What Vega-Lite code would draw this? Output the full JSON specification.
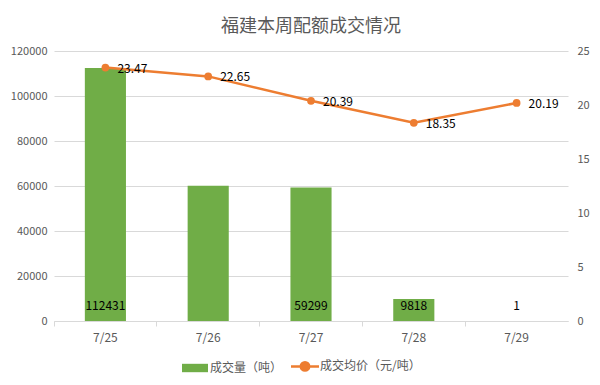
{
  "$schema": "https://vega.github.io/schema/vega-lite/v6.json",
  "width": 514,
  "height": 270,
  "autosize": {"type": "none"},
  "padding": {"left": 54, "top": 51, "right": 32, "bottom": 64},
  "background": "white",
  "config": {
    "font": "Noto Sans CJK SC",
    "view": {"stroke": null},
    "axis": {"labelColor": "#595959", "labelFontSize": 11, "gridColor": "#D9D9D9", "domainColor": "#D9D9D9", "tickColor": "#D9D9D9", "title": null}
  },
  "title": {"text": "福建本周配额成交情况", "fontSize": 18, "fontWeight": "normal", "color": "#595959", "anchor": "middle", "offset": 9},
  "data": {
    "values": [
      {"date": "7/25", "volume": 112431, "price": 23.47, "label": "112431"},
      {"date": "7/26", "volume": 60100, "price": 22.65, "label": ""},
      {"date": "7/27", "volume": 59299, "price": 20.39, "label": "59299"},
      {"date": "7/28", "volume": 9818, "price": 18.35, "label": "9818"},
      {"date": "7/29", "volume": 1, "price": 20.19, "label": "1"}
    ]
  },
  "encoding": {
    "x": {
      "field": "date", "type": "nominal", "sort": null,
      "scale": {"paddingInner": 0, "paddingOuter": 0},
      "axis": {"labelAngle": 0, "bandPosition": 0, "tickSize": 5, "labelPadding": 6, "labelFontSize": 12, "domainColor": "#D9D9D9", "grid": false}
    }
  },
  "layer": [
    {
      "encoding": {
        "y": {
          "field": "volume", "type": "quantitative",
          "scale": {"domain": [0, 120000], "nice": false},
          "axis": {"values": [0, 20000, 40000, 60000, 80000, 100000, 120000], "format": "d", "domain": false, "ticks": false, "labelPadding": 7, "grid": true}
        }
      },
      "layer": [
        {
          "mark": {"type": "bar", "width": {"band": 0.4}},
          "encoding": {
            "color": {
              "datum": "成交量（吨）",
              "type": "nominal",
              "scale": {"domain": ["成交量（吨）", "成交均价（元/吨）"], "range": ["#70AD47", "#ED7D31"]},
              "legend": {
                "title": null,
                "orient": "none",
                "direction": "horizontal",
                "legendX": 135,
                "legendY": 309,
                "symbolSize": 784,
                "labelFontSize": 12,
                "labelColor": "#595959",
                "labelOffset": 9,
                "columnPadding": 3,
                "encode": {
                  "symbols": {
                    "update": {
                      "shape": {"signal": "datum.value === '成交量（吨）' ? 'M-0.93,-0.3H0.93V0.3H-0.93Z' : 'M-1,0H1M0.3,0A0.3,0.3,0,1,1,-0.3,0A0.3,0.3,0,1,1,0.3,0Z'"},
                      "size": {"value": 784},
                      "fill": {"signal": "datum.value === '成交量（吨）' ? '#70AD47' : '#ED7D31'"},
                      "stroke": {"signal": "datum.value === '成交量（吨）' ? '#70AD47' : '#ED7D31'"},
                      "strokeWidth": {"signal": "datum.value === '成交量（吨）' ? 0 : 2.5"},
                      "opacity": {"value": 1},
                      "fillOpacity": {"value": 1}
                    }
                  }
                }
              }
            }
          }
        },
        {
          "mark": {"type": "text", "baseline": "middle", "dy": -15, "fontSize": 12, "color": "#000000"},
          "encoding": {
            "y": {"datum": 0},
            "text": {"field": "label"}
          }
        }
      ]
    },
    {
      "encoding": {
        "y": {
          "field": "price", "type": "quantitative",
          "scale": {"domain": [0, 25], "nice": false},
          "axis": {"orient": "right", "values": [0, 5, 10, 15, 20, 25], "domain": false, "ticks": false, "grid": false, "labelPadding": 9}
        }
      },
      "layer": [
        {
          "mark": {"type": "line", "strokeWidth": 2.5, "point": {"filled": true, "size": 60}},
          "encoding": {
            "color": {"datum": "成交均价（元/吨）", "type": "nominal"}
          }
        },
        {
          "mark": {"type": "text", "align": "left", "baseline": "middle", "dx": 12, "dy": 1, "fontSize": 12, "color": "#000000"},
          "encoding": {
            "text": {"field": "price", "type": "quantitative", "format": ".2f"}
          }
        }
      ]
    }
  ],
  "resolve": {"scale": {"y": "independent"}}
}
